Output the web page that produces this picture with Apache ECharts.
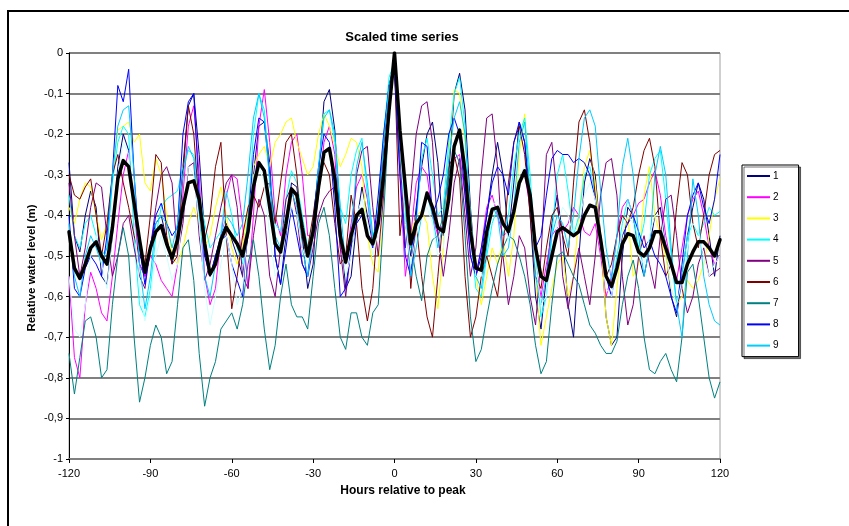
<!DOCTYPE html>
<html>
<head>
<meta charset="utf-8">
<script src="https://cdn.jsdelivr.net/npm/echarts@6/dist/echarts.min.js"></script>
<style>
  html, body { margin: 0; padding: 0; background: #ffffff; overflow: hidden; }
  #chart { width: 849px; height: 526px; }
</style>
</head>
<body>
<div id="chart"></div>
<script>
// Hours relative to the peak (2-hour steps)
const hours = [
  -120,-118,-116,-114,-112,-110,-108,-106,-104,-102,-100,-98,
  -96,-94,-92,-90,-88,-86,-84,-82,-80,-78,-76,-74,
  -72,-70,-68,-66,-64,-62,-60,-58,-56,-54,-52,-50,
  -48,-46,-44,-42,-40,-38,-36,-34,-32,-30,-28,-26,
  -24,-22,-20,-18,-16,-14,-12,-10,-8,-6,-4,-2,
  0,2,4,6,8,10,12,14,16,18,20,22,
  24,26,28,30,32,34,36,38,40,42,44,46,
  48,50,52,54,56,58,60,62,64,66,68,70,
  72,74,76,78,80,82,84,86,88,90,92,94,
  96,98,100,102,104,106,108,110,112,114,116,118,
  120
];

const yTicks = [0, -0.1, -0.2, -0.3, -0.4, -0.5, -0.6, -0.7, -0.8, -0.9, -1];
const xTicks = [-120, -90, -60, -30, 0, 30, 60, 90, 120];

// Scaled water level of each event (m)
const s1 = [
  -0.27,-0.45,-0.49,-0.40,-0.34,-0.38,-0.55,-0.57,-0.45,-0.28,-0.20,-0.24,
  -0.40,-0.52,-0.55,-0.47,-0.42,-0.40,-0.46,-0.52,-0.45,-0.28,-0.13,-0.10,
  -0.25,-0.45,-0.55,-0.50,-0.45,-0.42,-0.46,-0.50,-0.55,-0.45,-0.30,-0.18,
  -0.17,-0.27,-0.50,-0.57,-0.45,-0.32,-0.33,-0.45,-0.58,-0.52,-0.30,-0.12,
  -0.09,-0.19,-0.42,-0.58,-0.55,-0.42,-0.33,-0.40,-0.47,-0.40,-0.22,-0.08,
  -0.02,-0.22,-0.42,-0.50,-0.38,-0.28,-0.20,-0.17,-0.27,-0.45,-0.30,-0.10,
  -0.05,-0.14,-0.38,-0.55,-0.50,-0.40,-0.30,-0.22,-0.30,-0.45,-0.32,-0.17,
  -0.22,-0.40,-0.60,-0.68,-0.55,-0.42,-0.35,-0.45,-0.62,-0.70,-0.50,-0.32,
  -0.26,-0.30,-0.45,-0.65,-0.72,-0.70,-0.50,-0.38,-0.40,-0.50,-0.55,-0.48,
  -0.40,-0.38,-0.48,-0.60,-0.65,-0.55,-0.45,-0.38,-0.32,-0.36,-0.45,-0.55,
  -0.45
];
const s2 = [
  -0.55,-0.75,-0.80,-0.62,-0.54,-0.58,-0.64,-0.66,-0.55,-0.42,-0.30,-0.24,
  -0.40,-0.52,-0.55,-0.50,-0.52,-0.56,-0.58,-0.60,-0.52,-0.35,-0.18,-0.13,
  -0.30,-0.55,-0.62,-0.58,-0.45,-0.35,-0.30,-0.31,-0.42,-0.58,-0.40,-0.18,
  -0.09,-0.22,-0.40,-0.45,-0.30,-0.22,-0.20,-0.30,-0.45,-0.45,-0.35,-0.22,
  -0.18,-0.25,-0.48,-0.52,-0.42,-0.33,-0.30,-0.36,-0.47,-0.40,-0.22,-0.08,
  -0.04,-0.30,-0.55,-0.45,-0.32,-0.28,-0.30,-0.40,-0.45,-0.42,-0.33,-0.26,
  -0.25,-0.35,-0.50,-0.55,-0.48,-0.38,-0.35,-0.40,-0.45,-0.44,-0.38,-0.32,
  -0.30,-0.38,-0.52,-0.60,-0.52,-0.45,-0.43,-0.44,-0.42,-0.38,-0.40,-0.44,
  -0.45,-0.42,-0.50,-0.60,-0.55,-0.45,-0.38,-0.36,-0.40,-0.37,-0.36,-0.32,
  -0.29,-0.35,-0.45,-0.52,-0.56,-0.48,-0.40,-0.36,-0.34,-0.40,-0.48,-0.52,
  -0.50
];
const s3 = [
  -0.38,-0.42,-0.36,-0.32,-0.33,-0.40,-0.46,-0.42,-0.30,-0.19,-0.18,-0.17,
  -0.22,-0.20,-0.32,-0.34,-0.26,-0.30,-0.40,-0.50,-0.52,-0.48,-0.42,-0.38,
  -0.42,-0.48,-0.45,-0.38,-0.33,-0.40,-0.48,-0.52,-0.48,-0.38,-0.28,-0.25,
  -0.23,-0.28,-0.22,-0.20,-0.17,-0.16,-0.22,-0.26,-0.30,-0.28,-0.20,-0.15,
  -0.18,-0.23,-0.28,-0.25,-0.21,-0.22,-0.28,-0.45,-0.52,-0.54,-0.35,-0.10,
  -0.02,-0.22,-0.40,-0.45,-0.40,-0.39,-0.42,-0.55,-0.63,-0.48,-0.25,-0.09,
  -0.10,-0.22,-0.40,-0.55,-0.62,-0.55,-0.48,-0.52,-0.46,-0.55,-0.45,-0.25,
  -0.15,-0.35,-0.55,-0.72,-0.65,-0.58,-0.52,-0.50,-0.60,-0.55,-0.40,-0.28,
  -0.24,-0.32,-0.45,-0.65,-0.72,-0.58,-0.45,-0.40,-0.55,-0.52,-0.35,-0.28,
  -0.40,-0.45,-0.50,-0.58,-0.62,-0.60,-0.56,-0.58,-0.56,-0.52,-0.45,-0.36,
  -0.31
];
const s4 = [
  -0.35,-0.45,-0.48,-0.42,-0.40,-0.45,-0.50,-0.48,-0.32,-0.22,-0.18,-0.20,
  -0.45,-0.62,-0.65,-0.58,-0.45,-0.38,-0.36,-0.35,-0.34,-0.28,-0.24,-0.25,
  -0.35,-0.42,-0.48,-0.46,-0.44,-0.34,-0.40,-0.48,-0.52,-0.40,-0.20,-0.10,
  -0.14,-0.30,-0.42,-0.44,-0.36,-0.29,-0.32,-0.40,-0.48,-0.42,-0.28,-0.15,
  -0.14,-0.22,-0.38,-0.42,-0.30,-0.24,-0.21,-0.35,-0.46,-0.38,-0.20,-0.06,
  -0.02,-0.20,-0.42,-0.48,-0.42,-0.26,-0.21,-0.30,-0.40,-0.38,-0.22,-0.10,
  -0.06,-0.18,-0.45,-0.58,-0.60,-0.50,-0.42,-0.38,-0.45,-0.40,-0.28,-0.20,
  -0.16,-0.30,-0.50,-0.65,-0.60,-0.45,-0.30,-0.25,-0.34,-0.45,-0.40,-0.30,
  -0.28,-0.35,-0.48,-0.55,-0.58,-0.50,-0.42,-0.36,-0.40,-0.48,-0.42,-0.30,
  -0.26,-0.24,-0.36,-0.50,-0.62,-0.55,-0.45,-0.42,-0.45,-0.42,-0.38,-0.40,
  -0.39
];
const s5 = [
  -0.32,-0.45,-0.55,-0.48,-0.38,-0.32,-0.33,-0.45,-0.55,-0.50,-0.42,-0.40,
  -0.48,-0.55,-0.58,-0.48,-0.38,-0.30,-0.28,-0.32,-0.50,-0.42,-0.28,-0.27,
  -0.45,-0.56,-0.52,-0.45,-0.38,-0.32,-0.30,-0.38,-0.55,-0.58,-0.45,-0.36,
  -0.40,-0.55,-0.60,-0.48,-0.36,-0.33,-0.40,-0.52,-0.55,-0.48,-0.40,-0.36,
  -0.34,-0.33,-0.48,-0.60,-0.48,-0.30,-0.24,-0.23,-0.38,-0.50,-0.35,-0.10,
  -0.03,-0.25,-0.48,-0.35,-0.20,-0.13,-0.12,-0.22,-0.45,-0.55,-0.45,-0.32,
  -0.26,-0.40,-0.55,-0.48,-0.30,-0.16,-0.15,-0.28,-0.50,-0.62,-0.55,-0.45,
  -0.48,-0.60,-0.67,-0.50,-0.25,-0.22,-0.35,-0.55,-0.63,-0.55,-0.48,-0.55,
  -0.62,-0.50,-0.35,-0.27,-0.26,-0.35,-0.55,-0.67,-0.62,-0.50,-0.45,-0.52,
  -0.58,-0.45,-0.36,-0.35,-0.45,-0.58,-0.64,-0.60,-0.52,-0.48,-0.55,-0.54,
  -0.53
];
const s6 = [
  -0.30,-0.35,-0.36,-0.33,-0.31,-0.40,-0.50,-0.42,-0.30,-0.25,-0.32,-0.38,
  -0.45,-0.50,-0.52,-0.40,-0.25,-0.27,-0.45,-0.52,-0.50,-0.30,-0.13,-0.20,
  -0.38,-0.46,-0.40,-0.28,-0.22,-0.45,-0.63,-0.55,-0.45,-0.38,-0.35,-0.38,
  -0.33,-0.32,-0.42,-0.32,-0.22,-0.20,-0.30,-0.48,-0.48,-0.40,-0.30,-0.27,
  -0.30,-0.42,-0.52,-0.50,-0.35,-0.42,-0.58,-0.66,-0.58,-0.40,-0.22,-0.08,
  -0.03,-0.45,-0.33,-0.58,-0.42,-0.55,-0.65,-0.70,-0.55,-0.40,-0.28,-0.25,
  -0.31,-0.55,-0.70,-0.65,-0.55,-0.50,-0.55,-0.60,-0.48,-0.32,-0.22,-0.18,
  -0.25,-0.40,-0.55,-0.58,-0.48,-0.40,-0.38,-0.45,-0.50,-0.32,-0.17,-0.14,
  -0.22,-0.35,-0.48,-0.55,-0.52,-0.45,-0.40,-0.42,-0.38,-0.30,-0.24,-0.21,
  -0.28,-0.45,-0.55,-0.52,-0.38,-0.27,-0.30,-0.42,-0.48,-0.40,-0.30,-0.25,
  -0.24
];
const s7 = [
  -0.74,-0.84,-0.75,-0.66,-0.65,-0.70,-0.80,-0.78,-0.62,-0.50,-0.43,-0.50,
  -0.70,-0.86,-0.80,-0.72,-0.67,-0.70,-0.79,-0.76,-0.62,-0.48,-0.46,-0.56,
  -0.74,-0.87,-0.80,-0.76,-0.68,-0.66,-0.64,-0.68,-0.62,-0.52,-0.46,-0.55,
  -0.68,-0.78,-0.72,-0.60,-0.52,-0.62,-0.65,-0.65,-0.68,-0.55,-0.42,-0.38,
  -0.45,-0.58,-0.70,-0.73,-0.64,-0.64,-0.70,-0.72,-0.64,-0.62,-0.40,-0.15,
  -0.02,-0.25,-0.40,-0.47,-0.55,-0.61,-0.50,-0.46,-0.45,-0.40,-0.30,-0.24,
  -0.27,-0.45,-0.65,-0.76,-0.73,-0.65,-0.58,-0.52,-0.48,-0.45,-0.46,-0.50,
  -0.55,-0.62,-0.72,-0.79,-0.76,-0.62,-0.50,-0.49,-0.52,-0.55,-0.57,-0.62,
  -0.67,-0.69,-0.72,-0.74,-0.74,-0.71,-0.62,-0.55,-0.51,-0.58,-0.70,-0.78,
  -0.79,-0.76,-0.74,-0.78,-0.81,-0.70,-0.54,-0.52,-0.60,-0.70,-0.80,-0.85,
  -0.81
];
const s8 = [
  -0.40,-0.58,-0.60,-0.53,-0.50,-0.52,-0.55,-0.45,-0.30,-0.08,-0.12,-0.04,
  -0.30,-0.48,-0.57,-0.48,-0.40,-0.37,-0.42,-0.45,-0.43,-0.20,-0.12,-0.10,
  -0.35,-0.50,-0.55,-0.50,-0.46,-0.45,-0.52,-0.56,-0.60,-0.42,-0.25,-0.16,
  -0.17,-0.30,-0.50,-0.57,-0.48,-0.38,-0.45,-0.52,-0.55,-0.42,-0.28,-0.20,
  -0.22,-0.38,-0.60,-0.58,-0.48,-0.42,-0.40,-0.45,-0.48,-0.35,-0.20,-0.08,
  -0.05,-0.30,-0.50,-0.55,-0.40,-0.22,-0.23,-0.40,-0.36,-0.30,-0.20,-0.16,
  -0.20,-0.35,-0.50,-0.55,-0.48,-0.40,-0.32,-0.28,-0.30,-0.35,-0.22,-0.17,
  -0.22,-0.35,-0.48,-0.45,-0.35,-0.26,-0.24,-0.25,-0.25,-0.27,-0.26,-0.27,
  -0.30,-0.36,-0.45,-0.55,-0.60,-0.52,-0.45,-0.42,-0.40,-0.44,-0.48,-0.46,
  -0.50,-0.52,-0.55,-0.60,-0.64,-0.52,-0.40,-0.35,-0.32,-0.38,-0.42,-0.36,
  -0.25
];
const s9 = [
  -0.42,-0.55,-0.60,-0.50,-0.45,-0.48,-0.52,-0.48,-0.30,-0.18,-0.14,-0.13,
  -0.30,-0.52,-0.63,-0.55,-0.42,-0.40,-0.42,-0.48,-0.42,-0.30,-0.23,-0.26,
  -0.40,-0.55,-0.60,-0.52,-0.45,-0.40,-0.42,-0.45,-0.42,-0.30,-0.16,-0.10,
  -0.16,-0.32,-0.45,-0.48,-0.40,-0.34,-0.38,-0.48,-0.55,-0.45,-0.28,-0.16,
  -0.14,-0.20,-0.38,-0.52,-0.45,-0.28,-0.22,-0.32,-0.45,-0.42,-0.22,-0.08,
  -0.03,-0.18,-0.40,-0.55,-0.48,-0.40,-0.35,-0.40,-0.48,-0.42,-0.26,-0.16,
  -0.12,-0.20,-0.40,-0.55,-0.58,-0.48,-0.38,-0.40,-0.50,-0.48,-0.38,-0.22,
  -0.17,-0.35,-0.55,-0.62,-0.55,-0.45,-0.40,-0.42,-0.48,-0.40,-0.26,-0.16,
  -0.14,-0.18,-0.34,-0.48,-0.56,-0.45,-0.28,-0.21,-0.30,-0.45,-0.55,-0.48,
  -0.30,-0.23,-0.30,-0.48,-0.62,-0.70,-0.50,-0.31,-0.40,-0.55,-0.62,-0.66,
  -0.67
];
const s10 = [
  -0.55,-0.68,-0.70,-0.62,-0.50,-0.45,-0.52,-0.58,-0.45,-0.30,-0.22,-0.25,
  -0.40,-0.58,-0.66,-0.60,-0.50,-0.45,-0.50,-0.56,-0.52,-0.38,-0.28,-0.30,
  -0.42,-0.58,-0.67,-0.60,-0.52,-0.45,-0.52,-0.62,-0.58,-0.42,-0.30,-0.28,
  -0.32,-0.45,-0.55,-0.52,-0.44,-0.38,-0.40,-0.48,-0.52,-0.45,-0.32,-0.25,
  -0.24,-0.30,-0.45,-0.55,-0.50,-0.40,-0.36,-0.42,-0.50,-0.44,-0.28,-0.10,
  -0.03,-0.22,-0.42,-0.52,-0.45,-0.40,-0.38,-0.42,-0.50,-0.48,-0.35,-0.22,
  -0.18,-0.25,-0.42,-0.55,-0.55,-0.45,-0.38,-0.36,-0.42,-0.46,-0.40,-0.30,
  -0.28,-0.36,-0.52,-0.62,-0.60,-0.50,-0.42,-0.38,-0.40,-0.45,-0.42,-0.35,
  -0.32,-0.36,-0.45,-0.58,-0.60,-0.52,-0.44,-0.40,-0.42,-0.50,-0.52,-0.45,
  -0.40,-0.40,-0.48,-0.58,-0.62,-0.56,-0.48,-0.42,-0.44,-0.50,-0.55,-0.52,
  -0.50
];
// Mean of all events
const meanLevel = [
  -0.44,-0.53,-0.555,-0.52,-0.48,-0.465,-0.50,-0.52,-0.43,-0.31,-0.265,-0.28,
  -0.37,-0.46,-0.54,-0.48,-0.44,-0.425,-0.47,-0.505,-0.46,-0.38,-0.32,-0.315,
  -0.36,-0.47,-0.545,-0.52,-0.46,-0.43,-0.45,-0.47,-0.50,-0.44,-0.33,-0.27,
  -0.29,-0.38,-0.47,-0.49,-0.42,-0.335,-0.35,-0.43,-0.50,-0.44,-0.33,-0.245,
  -0.235,-0.31,-0.45,-0.515,-0.45,-0.40,-0.385,-0.45,-0.47,-0.42,-0.30,-0.14,
  0,-0.19,-0.33,-0.47,-0.42,-0.40,-0.345,-0.38,-0.43,-0.44,-0.36,-0.23,
  -0.19,-0.29,-0.44,-0.53,-0.535,-0.44,-0.385,-0.38,-0.42,-0.44,-0.39,-0.32,
  -0.29,-0.35,-0.48,-0.55,-0.56,-0.50,-0.44,-0.43,-0.44,-0.45,-0.44,-0.40,
  -0.375,-0.38,-0.46,-0.55,-0.575,-0.53,-0.47,-0.445,-0.45,-0.49,-0.50,-0.48,
  -0.44,-0.44,-0.48,-0.52,-0.565,-0.565,-0.52,-0.49,-0.465,-0.465,-0.48,-0.50,
  -0.46
];

const eventNames = ['1', '2', '3', '4', '5', '6', '7', '8', '9', '10'];
const eventValues = [s1, s2, s3, s4, s5, s6, s7, s8, s9, s10];
const eventColors = ['#000080', '#FF00FF', '#FFFF00', '#00FFFF', '#800080',
                     '#800000', '#008080', '#0000FF', '#00CCFF', '#CCFFFF'];

const FONT = '"Liberation Sans", Arial, sans-serif';

function pairs(values) {
  return hours.map((h, i) => [h, values[i]]);
}

const series = eventNames.map((name, k) => ({
  name: name,
  type: 'line',
  data: pairs(eventValues[k]),
  symbol: 'none',
  smooth: false,
  lineStyle: { color: eventColors[k], width: 1 },
  itemStyle: { color: eventColors[k] },
  emphasis: { disabled: true }
}));
series.push({
  name: 'mean',
  type: 'line',
  data: pairs(meanLevel),
  symbol: 'none',
  lineStyle: { color: '#000000', width: 3.5, join: 'round', cap: 'round' },
  itemStyle: { color: '#000000' },
  emphasis: { disabled: true }
});

function yLabel(v) {
  const r = Math.round(v * 10) / 10;
  if (r === 0) return '0';
  if (r === -1) return '-1';
  return r.toFixed(1).replace('.', ',');
}

// Legend entries: plain 2px line keys
const legendItems = eventNames.slice(0, 9).map((name, k) => ({
  name: name,
  icon: 'rect',
  itemStyle: { color: eventColors[k] }
}));

const chart = echarts.init(document.getElementById('chart'), null, { renderer: 'canvas' });
chart.setOption({
  backgroundColor: '#ffffff',
  animation: false,
  textStyle: { fontFamily: FONT },
  grid: {
    left: 69, right: 129, top: 53, bottom: 67,
    show: true, borderColor: '#a0a0a0', borderWidth: 1, backgroundColor: 'transparent'
  },
  xAxis: {
    type: 'value',
    min: xTicks[0], max: xTicks[xTicks.length - 1], interval: 30,
    axisLine: { show: true, onZero: false, lineStyle: { color: '#808080', width: 2 } },
    axisTick: { show: true, length: 4, lineStyle: { color: '#000000', width: 1 } },
    axisLabel: { color: '#000000', fontSize: 11, margin: 9, fontFamily: FONT },
    splitLine: { show: false }
  },
  yAxis: {
    type: 'value',
    min: yTicks[yTicks.length - 1], max: yTicks[0], interval: 0.1,
    axisLine: { show: true, onZero: false, lineStyle: { color: '#000000', width: 1 } },
    axisTick: { show: true, length: 3, lineStyle: { color: '#000000', width: 1 } },
    axisLabel: { color: '#000000', fontSize: 11, margin: 6, formatter: yLabel, fontFamily: FONT },
    splitLine: { show: true, lineStyle: { color: '#808080', width: 2 } }
  },
  legend: {
    data: legendItems,
    orient: 'vertical',
    left: 742, top: 165,
    padding: [5, 20, 5, 5],
    itemWidth: 23, itemHeight: 2, itemGap: 9.2,
    backgroundColor: '#ffffff',
    borderColor: '#000000', borderWidth: 1, borderRadius: 0,
    shadowColor: 'rgba(0,0,0,0.55)', shadowOffsetX: 2, shadowOffsetY: 2, shadowBlur: 0,
    textStyle: { color: '#000000', fontSize: 10, lineHeight: 12, fontFamily: FONT, padding: [0, 0, 0, -2] },
    selectedMode: false
  },
  graphic: [
    // outer chart frame: top and left edges
    {
      type: 'line', silent: true,
      shape: { x1: 7, y1: 11, x2: 860, y2: 11 },
      style: { stroke: '#000000', lineWidth: 2 }
    },
    {
      type: 'line', silent: true,
      shape: { x1: 8, y1: 10, x2: 8, y2: 540 },
      style: { stroke: '#000000', lineWidth: 2 }
    },
    {
      type: 'text', x: 402, y: 37, silent: true,
      style: { text: 'Scaled time series', align: 'center', verticalAlign: 'middle',
               font: 'bold 13px ' + FONT, fill: '#000000' }
    },
    {
      type: 'text', x: 403, y: 491, silent: true,
      style: { text: 'Hours relative to peak', align: 'center', verticalAlign: 'middle',
               font: 'bold 12px ' + FONT, fill: '#000000' }
    },
    {
      type: 'text', x: 32, y: 268, rotation: Math.PI / 2, silent: true,
      style: { text: 'Relative water level (m)', align: 'center', verticalAlign: 'middle',
               font: 'bold 11.5px ' + FONT, fill: '#000000' }
    }
  ],
  series: series
});
</script>
</body>
</html>
